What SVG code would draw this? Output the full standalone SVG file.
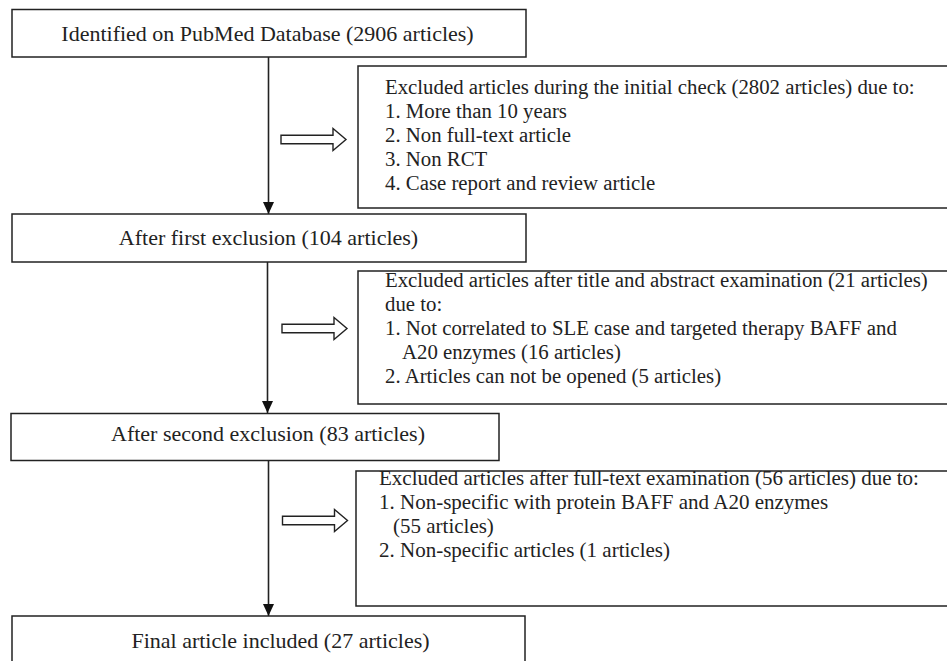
<svg xmlns="http://www.w3.org/2000/svg" width="947" height="661" viewBox="0 0 947 661">
<style>
.box{fill:#fff;stroke:#222;stroke-width:1.5}
.t{font-family:"Liberation Serif","Times New Roman",serif;fill:#222}
.m{font-size:22px;text-anchor:middle}
.e{font-size:20.8px}
.ln{stroke:#222;stroke-width:1.6;fill:none}
.ha{fill:#fff;stroke:#222;stroke-width:1.4;stroke-linejoin:miter}
</style>
<defs>
<marker id="ah" viewBox="0 0 12 11" refX="12" refY="5.5" markerWidth="12" markerHeight="11" markerUnits="userSpaceOnUse" orient="auto">
<path d="M0,0 L12,5.5 L0,11 Z" fill="#111"/>
</marker>
<path id="hollow" class="ha" d="M-65,-4.2 L-13,-4.2 L-13,-11 L0,0 L-13,11 L-13,4.2 L-65,4.2 Z"/>
</defs>
<rect width="947" height="661" fill="#fff"/>
<g id="connectors">
<line class="ln" x1="268.5" y1="57" x2="268.5" y2="214" marker-end="url(#ah)"/>
<line class="ln" x1="267.5" y1="262" x2="267.5" y2="413" marker-end="url(#ah)"/>
<line class="ln" x1="268.5" y1="461" x2="268.5" y2="616" marker-end="url(#ah)"/>
<use href="#hollow" x="346" y="139.5"/>
<use href="#hollow" x="347" y="328.5"/>
<use href="#hollow" x="347.5" y="520.5"/>
</g>
<g id="n1">
<rect class="box" x="12" y="9.5" width="514" height="47.5"/>
<text class="t m" x="267.5" y="40.5">Identified on PubMed Database (2906 articles)</text>
</g>
<g id="x1">
<rect class="box" x="358" y="66" width="600" height="142"/>
<text class="t e" x="385" y="94">Excluded articles during the initial check (2802 articles) due to:</text>
<text class="t e" x="385" y="118">1. More than 10 years</text>
<text class="t e" x="385" y="142">2. Non full-text article</text>
<text class="t e" x="385" y="166">3. Non RCT</text>
<text class="t e" x="385" y="190">4. Case report and review article</text>
</g>
<g id="n2">
<rect class="box" x="12" y="214" width="514" height="48"/>
<text class="t m" x="268.5" y="245">After first exclusion (104 articles)</text>
</g>
<g id="x2">
<rect class="box" x="358" y="271" width="600" height="133"/>
<text class="t e" x="385" y="287">Excluded articles after title and abstract examination (21 articles)</text>
<text class="t e" x="385" y="311">due to:</text>
<text class="t e" x="385" y="335">1. Not correlated to SLE case and targeted therapy BAFF and</text>
<text class="t e" x="402" y="359">A20 enzymes (16 articles)</text>
<text class="t e" x="385" y="383">2. Articles can not be opened (5 articles)</text>
</g>
<g id="n3">
<rect class="box" x="11" y="413.5" width="488" height="47"/>
<text class="t m" x="268" y="441">After second exclusion (83 articles)</text>
</g>
<g id="x3">
<rect class="box" x="356" y="471" width="600" height="135"/>
<text class="t e" x="379" y="485" style="font-size:21px">Excluded articles after full-text examination (56 articles) due to:</text>
<text class="t e" x="379" y="509" style="font-size:21px">1. Non-specific with protein BAFF and A20 enzymes</text>
<text class="t e" x="393" y="533" style="font-size:21px">(55 articles)</text>
<text class="t e" x="379" y="557" style="font-size:21px">2. Non-specific articles (1 articles)</text>
</g>
<g id="n4">
<rect class="box" x="12" y="616" width="513" height="60"/>
<text class="t m" x="280.5" y="648">Final article included (27 articles)</text>
</g>
</svg>
